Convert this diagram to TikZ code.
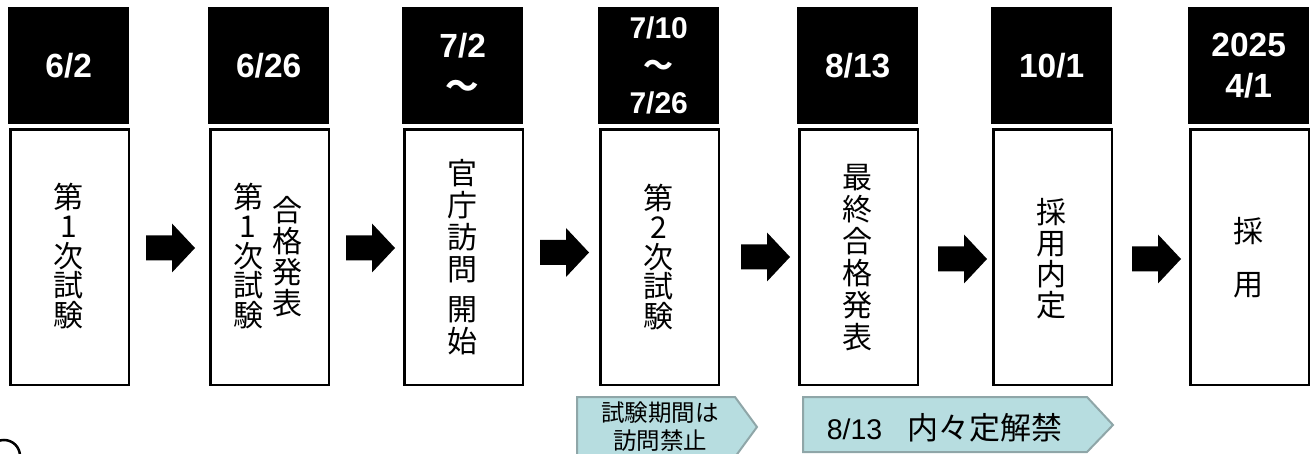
\documentclass[tikz,border=0pt]{standalone}
\usepackage{fontspec}
\setmainfont{Liberation Sans}
\newfontfamily\jp{Noto Sans CJK JP}
\definecolor{callfill}{RGB}{183,221,224}
\definecolor{calldraw}{RGB}{143,166,168}
\begin{document}
\begin{tikzpicture}[x=1pt,y=-1pt,
  hdr/.style={fill=black, text=white, minimum width=121pt, minimum height=117pt, inner sep=0pt, anchor=north west, align=center, font=\fontsize{33.5}{41}\selectfont\bfseries},
  hdrthree/.style={hdr, font=\fontsize{30}{37.5}\selectfont\bfseries},
  body/.style={draw=black, line width=2.5pt, fill=white, minimum width=118.5pt, minimum height=255.5pt, inner sep=0pt, anchor=north west},
  vtext/.style={align=center, inner sep=0pt, font=\jp\fontsize{30}{29.5}\selectfont},
  calloutshape/.style={fill=callfill, draw=calldraw, line width=2pt},
  callouttext/.style={inner sep=0pt, align=center},
  blockarrow/.pic={\fill (0,-12.5) -- (26,-12.5) -- (26,-24.5) -- (49,0) -- (26,24.5) -- (26,12.5) -- (0,12.5) -- cycle;}
]
\useasboundingbox (0,0) rectangle (1312,454);

% headers
\node[hdr] (h1) at (8,7) {6/2};
\node[hdr] (h2) at (208,7) {6/26};
\node[hdr] (h3) at (402,7) {7/2\\{\jp\bfseries ～}};
\node[hdrthree] (h4) at (598,7) {7/10\\{\jp\bfseries ～}\\7/26};
\node[hdr] (h5) at (797,7) {8/13};
\node[hdr] (h6) at (991,7) {10/1};
\node[hdr] (h7) at (1188,7) {2025\\4/1};

% bodies
\node[body] (b1) at (9.25,128.25) {};
\node[body] (b2) at (209.25,128.25) {};
\node[body] (b3) at (403.25,128.25) {};
\node[body] (b4) at (599.25,128.25) {};
\node[body] (b5) at (798.25,128.25) {};
\node[body] (b6) at (992.25,128.25) {};
\node[body] (b7) at (1189.25,128.25) {};

% vertical texts
\node[vtext] (t1) at (68.5,256) {第\\1\\次\\試\\験};
\node[vtext] (t2a) at (248,256) {第\\1\\次\\試\\験};
\node[vtext, font=\jp\fontsize{30}{31}\selectfont] (t2b) at (287,257) {合\\格\\発\\表};
\node[vtext, font=\jp\fontsize{30}{32}\selectfont] (t3) at (462.5,257.5) {官\\庁\\訪\\問\\[8pt]開\\始};
\node[vtext] (t4) at (658.5,257) {第\\2\\次\\試\\験};
\node[vtext, font=\jp\fontsize{30}{32}\selectfont] (t5) at (857.5,258) {最\\終\\合\\格\\発\\表};
\node[vtext, font=\jp\fontsize{30}{31}\selectfont] (t6) at (1051.5,259) {採\\用\\内\\定};
\node[vtext, font=\jp\fontsize{30}{53}\selectfont] (t7) at (1248.5,258) {採\\用};

% block arrows
\pic (a1) at (146,248) {blockarrow};
\pic (a2) at (346,248) {blockarrow};
\pic (a3) at (540,252.5) {blockarrow};
\pic (a4) at (741,257) {blockarrow};
\pic (a5) at (938,259) {blockarrow};
\pic (a6) at (1132,259) {blockarrow};

% callouts
\draw[calloutshape] (577,397) -- (735,397) -- (757,427) -- (735,457) -- (577,457) -- cycle;
\node[callouttext, font=\jp\fontsize{23.5}{28}\selectfont] (c1) at (660,427) {試験期間は\\訪問禁止};
\draw[calloutshape] (803,397) -- (1087,397) -- (1113,425) -- (1087,452) -- (803,452) -- cycle;
\node[callouttext, font=\fontsize{28.5}{30}\selectfont] (c2) at (944.5,427.5) {8/13\hspace{25pt}{\jp\fontsize{31}{30}\selectfont 内々定解禁}};

% partial circle at lower left
\begin{scope}
\clip (0,0) rectangle (1312,454);
\draw[line width=2.5pt] (4,456) circle[radius=16];
\end{scope}
\end{tikzpicture}
\end{document}
